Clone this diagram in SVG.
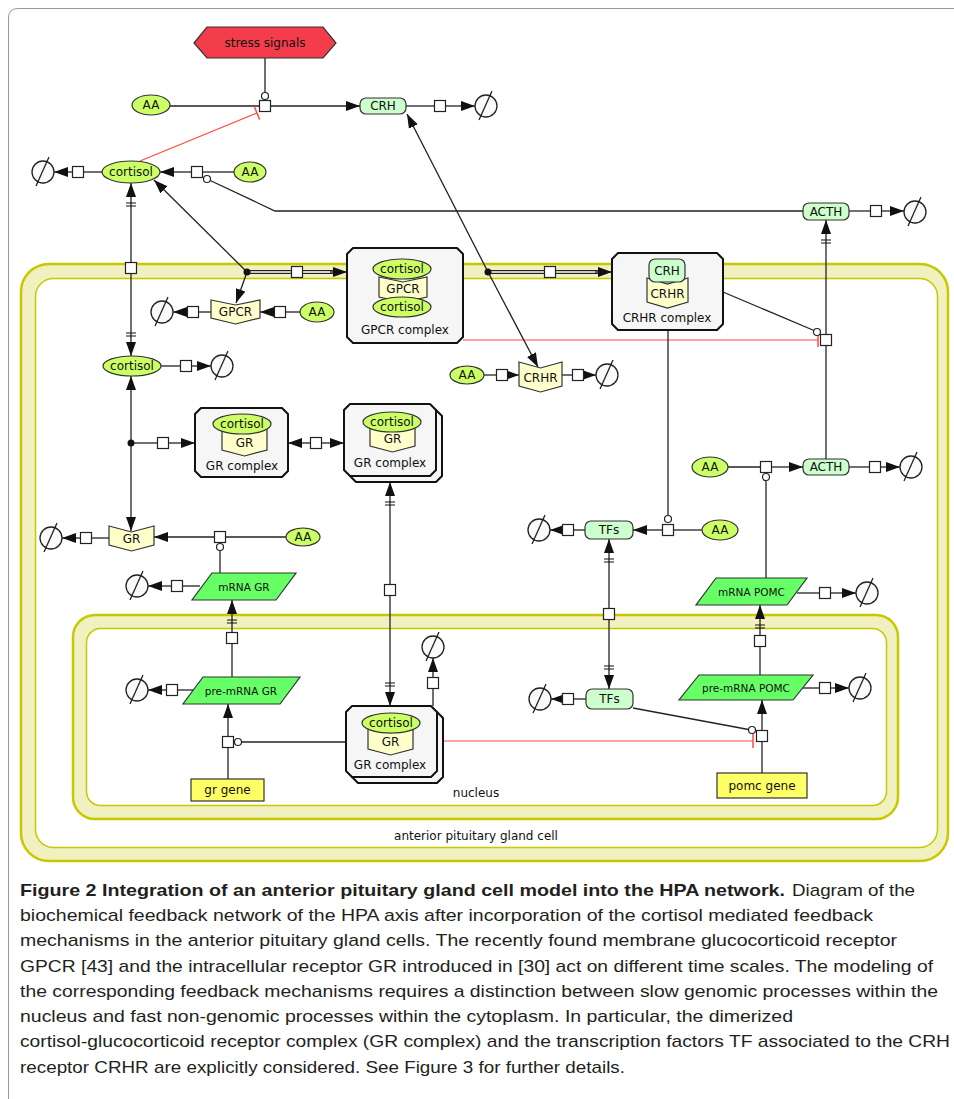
<svg xmlns="http://www.w3.org/2000/svg" width="954" height="1099" viewBox="0 0 954 1099">
<defs>
<style>
.ln{stroke:#222;stroke-width:1.3;fill:none}
.red{stroke:#ff4a3d;stroke-width:1.2;fill:none}
.dk{stroke:#222;stroke-width:4;fill:none}
.wh{stroke:#fff;stroke-width:1.6;fill:none}
.sq{fill:#fff;stroke:#222;stroke-width:1.2}
.mod{fill:#fff;stroke:#222;stroke-width:1.2}
.dot{fill:#111}
.dg circle{fill:#fafafa;stroke:#222;stroke-width:1.3}
.dg line{stroke:#222;stroke-width:1.3}
.sm{fill:#ccff66;stroke:#333;stroke-width:1.2}
.pr{fill:#ccffcc;stroke:#333;stroke-width:1.2}
.rc{fill:#ffffcc;stroke:#333;stroke-width:1.2}
.cx{fill:#f6f6f6;stroke:#111;stroke-width:2;stroke-linejoin:round}
.rna{fill:#66ff66;stroke:#333;stroke-width:1.2}
.gene{fill:#ffff66;stroke:#333;stroke-width:1.2}
.cmp{fill:#f0f0c0;stroke:#c8c800;stroke-width:2.5}
.cmpi{fill:#fff;stroke:#c8c800;stroke-width:1.5}
.t{font-family:"DejaVu Sans",sans-serif;font-size:12px;fill:#111;text-anchor:middle;dominant-baseline:central}
.ts{font-family:"DejaVu Sans",sans-serif;font-size:10.5px;fill:#111;text-anchor:middle;dominant-baseline:central}
.cap{font-family:"Liberation Sans",Arial,sans-serif;font-size:17px;fill:#231f20}
</style>
<marker id="ar" markerUnits="userSpaceOnUse" markerWidth="15" markerHeight="11" refX="14" refY="5.5" orient="auto-start-reverse"><path d="M0,0.5 L14,5.5 L0,10.5 Z" fill="#111"/></marker>
<marker id="arb" markerUnits="userSpaceOnUse" markerWidth="38" markerHeight="14" refX="37" refY="7" orient="auto"><path d="M23,2 L37,7 L23,12 Z" fill="#111"/><path d="M14,2 V12 M17,2 V12" stroke="#111" stroke-width="1.2"/></marker>
<marker id="tb" markerUnits="userSpaceOnUse" markerWidth="4" markerHeight="14" refX="2" refY="7" orient="auto"><path d="M2,0 V14" stroke="#ff4a3d" stroke-width="1.5"/></marker>
</defs>
<rect width="954" height="1099" fill="#fff"/>
<path d="M8.5,1099 V18 Q8.5,8.5 18,8.5 H954" fill="none" stroke="#999" stroke-width="1"/>

<g id="compartment-cell">
<rect class="cmp" x="21" y="264" width="927" height="597" rx="28"/>
<rect class="cmpi" x="35.5" y="278.5" width="902" height="569" rx="18"/>
<text class="t" x="476" y="836">anterior pituitary gland cell</text>
</g>
<g id="compartment-nucleus">
<rect class="cmp" x="73" y="615" width="825" height="204" rx="22"/>
<rect class="cmpi" x="86.5" y="628.5" width="800" height="177" rx="14"/>
<text class="t" x="476" y="793">nucleus</text>
</g>

<g id="connectors">
<!-- CRH synthesis -->
<path class="ln" d="M265,58 V92.5"/>
<path class="ln" d="M170,106 H259.5"/>
<path class="ln" d="M270.5,106 H360" marker-end="url(#ar)"/>
<path class="red" d="M140,161 L257,113" marker-end="url(#tb)"/>
<path class="ln" d="M406,106 H434.5"/>
<path class="ln" d="M445.5,106 H475" marker-end="url(#ar)"/>
<!-- top cortisol -->
<path class="ln" d="M102,172 H83.5"/>
<path class="ln" d="M72.5,172 H54" marker-end="url(#ar)"/>
<path class="ln" d="M234,172 H202.5"/>
<path class="ln" d="M191.5,172 H160" marker-end="url(#ar)"/>
<path class="ln" d="M210.2,180.5 L275,211 H803"/>
<!-- ACTH top -->
<path class="ln" d="M849,211 H870.5"/>
<path class="ln" d="M881.5,211 H904" marker-end="url(#ar)"/>
<path class="ln" d="M826,334.5 V220" marker-end="url(#arb)"/>
<path class="ln" d="M826,459 V345.5"/>
<path class="ln" d="M723,292 L814,330.5"/>
<path class="red" d="M463,340 H818" marker-end="url(#tb)"/>
<!-- GPCR junction -->
<path class="ln" d="M247,272 L154,180" marker-end="url(#ar)"/>
<path class="ln" d="M247,272 L236,303" marker-end="url(#ar)"/>
<path class="dk" d="M247,272 H291.5"/>
<path class="wh" d="M250,272 H291.5"/>
<path class="dk" d="M302.5,272 H334"/>
<path class="wh" d="M302.5,272 H334"/>
<path class="ln" d="M330,272 H347" marker-end="url(#ar)"/>
<!-- GPCR free -->
<path class="ln" d="M211,312 H198.5"/>
<path class="ln" d="M187.5,312 H173" marker-end="url(#ar)"/>
<path class="ln" d="M300,312 H285.5"/>
<path class="ln" d="M274.5,312 H260" marker-end="url(#ar)"/>
<!-- CRH junction -->
<path class="ln" d="M488,272 L407,114" marker-end="url(#ar)"/>
<path class="ln" d="M488,272 L538,367" marker-end="url(#ar)"/>
<path class="dk" d="M488,272 H544.5"/>
<path class="wh" d="M491,272 H544.5"/>
<path class="dk" d="M555.5,272 H599"/>
<path class="wh" d="M555.5,272 H599"/>
<path class="ln" d="M595,272 H612" marker-end="url(#ar)"/>
<!-- CRHR free -->
<path class="ln" d="M484,375 H496.5"/>
<path class="ln" d="M507.5,375 H519" marker-end="url(#ar)"/>
<path class="ln" d="M562,375 H572.5"/>
<path class="ln" d="M583.5,375 H596" marker-end="url(#ar)"/>
<!-- TFs -->
<path class="ln" d="M668,330 V515.5"/>
<path class="ln" d="M702,530 H673.5"/>
<path class="ln" d="M662.5,530 H633" marker-end="url(#ar)"/>
<path class="ln" d="M585,530 H573.5"/>
<path class="ln" d="M562.5,530 H550" marker-end="url(#ar)"/>
<path class="ln" d="M609,608.5 V539" marker-end="url(#arb)"/>
<path class="ln" d="M609,619.5 V689" marker-end="url(#arb)"/>
<path class="ln" d="M586,699 H573.5"/>
<path class="ln" d="M562.5,699 H551" marker-end="url(#ar)"/>
<path class="ln" d="M633,708 L748.5,729.5"/>
<!-- pomc -->
<path class="ln" d="M762,773 V741.5"/>
<path class="ln" d="M762,730.5 V700" marker-end="url(#ar)"/>
<path class="red" d="M437,741 H753" marker-end="url(#tb)"/>
<path class="ln" d="M803,688 H819.5"/>
<path class="ln" d="M830.5,688 H849" marker-end="url(#ar)"/>
<path class="ln" d="M760,675 V646.5"/>
<path class="ln" d="M760,635.5 V605" marker-end="url(#arb)"/>
<path class="ln" d="M797,593 H819.5"/>
<path class="ln" d="M830.5,593 H856" marker-end="url(#ar)"/>
<path class="ln" d="M766,578 V480.5"/>
<path class="ln" d="M728,467 H760.5"/>
<path class="ln" d="M771.5,467 H803" marker-end="url(#ar)"/>
<path class="ln" d="M849,467 H869.5"/>
<path class="ln" d="M880.5,467 H900" marker-end="url(#ar)"/>
<!-- left cortisol axis -->
<path class="ln" d="M131,262.5 V183" marker-end="url(#arb)"/>
<path class="ln" d="M131,273.5 V356" marker-end="url(#arb)"/>
<path class="ln" d="M161,366 H180.5"/>
<path class="ln" d="M191.5,366 H211" marker-end="url(#ar)"/>
<path class="ln" d="M131,443 V376" marker-end="url(#ar)"/>
<path class="ln" d="M131,443 V531" marker-end="url(#ar)"/>
<path class="ln" d="M131,443 H157.5"/>
<path class="ln" d="M168.5,443 H195" marker-end="url(#ar)"/>
<path class="ln" d="M310.5,443 H288" marker-end="url(#ar)"/>
<path class="ln" d="M321.5,443 H344" marker-end="url(#ar)"/>
<path class="ln" d="M390,584.5 V482" marker-end="url(#arb)"/>
<path class="ln" d="M390,595.5 V706" marker-end="url(#arb)"/>
<!-- nucleus GR -->
<path class="ln" d="M433,706 V688.5"/>
<path class="ln" d="M433,677.5 V658" marker-end="url(#ar)"/>
<path class="ln" d="M346,742 H241.5"/>
<path class="ln" d="M228,779 V747.5"/>
<path class="ln" d="M228,736.5 V704" marker-end="url(#ar)"/>
<path class="ln" d="M193,690 H177.5"/>
<path class="ln" d="M166.5,690 H148" marker-end="url(#ar)"/>
<path class="ln" d="M232,677 V643.5"/>
<path class="ln" d="M232,632.5 V600" marker-end="url(#arb)"/>
<path class="ln" d="M200,586 H182.5"/>
<path class="ln" d="M171.5,586 H148" marker-end="url(#ar)"/>
<path class="ln" d="M220,573 V550.5"/>
<path class="ln" d="M286,537 H225.5"/>
<path class="ln" d="M214.5,537 H154" marker-end="url(#ar)"/>
<path class="ln" d="M109,538 H91.5"/>
<path class="ln" d="M80.5,538 H62" marker-end="url(#ar)"/>
<!-- process squares -->
<rect class="sq" x="259.5" y="100.5" width="11" height="11"/>
<rect class="sq" x="434.5" y="100.5" width="11" height="11"/>
<rect class="sq" x="72.5" y="166.5" width="11" height="11"/>
<rect class="sq" x="191.5" y="166.5" width="11" height="11"/>
<rect class="sq" x="870.5" y="205.5" width="11" height="11"/>
<rect class="sq" x="820.5" y="334.5" width="11" height="11"/>
<rect class="sq" x="291.5" y="266.5" width="11" height="11"/>
<rect class="sq" x="187.5" y="306.5" width="11" height="11"/>
<rect class="sq" x="274.5" y="306.5" width="11" height="11"/>
<rect class="sq" x="544.5" y="266.5" width="11" height="11"/>
<rect class="sq" x="496.5" y="369.5" width="11" height="11"/>
<rect class="sq" x="572.5" y="369.5" width="11" height="11"/>
<rect class="sq" x="662.5" y="524.5" width="11" height="11"/>
<rect class="sq" x="562.5" y="524.5" width="11" height="11"/>
<rect class="sq" x="603.5" y="608.5" width="11" height="11"/>
<rect class="sq" x="562.5" y="693.5" width="11" height="11"/>
<rect class="sq" x="756.5" y="730.5" width="11" height="11"/>
<rect class="sq" x="819.5" y="682.5" width="11" height="11"/>
<rect class="sq" x="754.5" y="635.5" width="11" height="11"/>
<rect class="sq" x="819.5" y="587.5" width="11" height="11"/>
<rect class="sq" x="760.5" y="461.5" width="11" height="11"/>
<rect class="sq" x="869.5" y="461.5" width="11" height="11"/>
<rect class="sq" x="125.5" y="262.5" width="11" height="11"/>
<rect class="sq" x="180.5" y="360.5" width="11" height="11"/>
<rect class="sq" x="157.5" y="437.5" width="11" height="11"/>
<rect class="sq" x="310.5" y="437.5" width="11" height="11"/>
<rect class="sq" x="384.5" y="584.5" width="11" height="11"/>
<rect class="sq" x="427.5" y="677.5" width="11" height="11"/>
<rect class="sq" x="222.5" y="736.5" width="11" height="11"/>
<rect class="sq" x="166.5" y="684.5" width="11" height="11"/>
<rect class="sq" x="226.5" y="632.5" width="11" height="11"/>
<rect class="sq" x="171.5" y="580.5" width="11" height="11"/>
<rect class="sq" x="214.5" y="531.5" width="11" height="11"/>
<rect class="sq" x="80.5" y="532.5" width="11" height="11"/>
<!-- modulation circles -->
<circle class="mod" cx="265" cy="96" r="3.5"/>
<circle class="mod" cx="207" cy="179" r="3.5"/>
<circle class="mod" cx="817" cy="332" r="3.5"/>
<circle class="mod" cx="668" cy="519" r="3.5"/>
<circle class="mod" cx="752" cy="730" r="3.5"/>
<circle class="mod" cx="766" cy="477" r="3.5"/>
<circle class="mod" cx="238" cy="742" r="3.5"/>
<circle class="mod" cx="220" cy="547" r="3.5"/>
<!-- junction dots -->
<circle class="dot" cx="247" cy="272" r="3.5"/>
<circle class="dot" cx="488" cy="272" r="3.5"/>
<circle class="dot" cx="131" cy="443" r="3.5"/>
</g>

<g id="degradations" class="dg">
<g id="deg-crh"><circle cx="486" cy="106" r="11"/><line x1="479" y1="120" x2="492" y2="91"/></g>
<g id="deg-cortisol-top"><circle cx="43" cy="172" r="11"/><line x1="36" y1="186" x2="49" y2="157"/></g>
<g id="deg-acth-top"><circle cx="915" cy="212" r="11"/><line x1="908" y1="226" x2="921" y2="197"/></g>
<g id="deg-gpcr"><circle cx="162" cy="312" r="11"/><line x1="155" y1="326" x2="168" y2="297"/></g>
<g id="deg-crhr"><circle cx="607" cy="375" r="11"/><line x1="600" y1="389" x2="613" y2="360"/></g>
<g id="deg-cortisol-mid"><circle cx="222" cy="366" r="11"/><line x1="215" y1="380" x2="228" y2="351"/></g>
<g id="deg-tfs-up"><circle cx="539" cy="530" r="11"/><line x1="532" y1="544" x2="545" y2="515"/></g>
<g id="deg-tfs-low"><circle cx="540" cy="699" r="11"/><line x1="533" y1="713" x2="546" y2="684"/></g>
<g id="deg-premrna-pomc"><circle cx="860" cy="688" r="11"/><line x1="853" y1="702" x2="866" y2="673"/></g>
<g id="deg-mrna-pomc"><circle cx="867" cy="593" r="11"/><line x1="860" y1="607" x2="873" y2="578"/></g>
<g id="deg-acth-low"><circle cx="911" cy="467" r="11"/><line x1="904" y1="481" x2="917" y2="452"/></g>
<g id="deg-grcomplex-nuc"><circle cx="433" cy="647" r="11"/><line x1="426" y1="661" x2="439" y2="632"/></g>
<g id="deg-premrna-gr"><circle cx="137" cy="690" r="11"/><line x1="130" y1="704" x2="143" y2="675"/></g>
<g id="deg-mrna-gr"><circle cx="137" cy="586" r="11"/><line x1="130" y1="600" x2="143" y2="571"/></g>
<g id="deg-gr"><circle cx="51" cy="538" r="11"/><line x1="44" y1="552" x2="57" y2="523"/></g>
</g>

<g id="stress-signals"><polygon points="194,43 207,27 323,27 336,43 323,58 207,58" fill="#f33d4a" stroke="#333" stroke-width="1.2"/><text class="t" x="265" y="43">stress signals</text></g>
<g id="aa1"><ellipse class="sm" cx="151" cy="105" rx="19" ry="10"/><text class="t" x="151" y="105">AA</text></g>
<g id="aa2"><ellipse class="sm" cx="250" cy="172" rx="16" ry="10"/><text class="t" x="250" y="172">AA</text></g>
<g id="aa3"><ellipse class="sm" cx="317" cy="312" rx="17" ry="10"/><text class="t" x="317" y="312">AA</text></g>
<g id="aa4"><ellipse class="sm" cx="467" cy="375" rx="17" ry="9"/><text class="t" x="467" y="375">AA</text></g>
<g id="aa5"><ellipse class="sm" cx="720" cy="530" rx="18" ry="10"/><text class="t" x="720" y="530">AA</text></g>
<g id="aa6"><ellipse class="sm" cx="710" cy="467" rx="18" ry="10"/><text class="t" x="710" y="467">AA</text></g>
<g id="aa7"><ellipse class="sm" cx="303" cy="537" rx="17" ry="9"/><text class="t" x="303" y="537">AA</text></g>
<g id="cortisol-top"><ellipse class="sm" cx="131" cy="172" rx="29" ry="11"/><text class="t" x="131" y="172">cortisol</text></g>
<g id="cortisol-mid"><ellipse class="sm" cx="132" cy="366" rx="29" ry="10"/><text class="t" x="132" y="366">cortisol</text></g>
<g id="crh"><rect class="pr" x="360" y="98" width="46" height="16" rx="6"/><text class="t" x="383" y="106">CRH</text></g>
<g id="acth-top"><rect class="pr" x="803" y="203" width="46" height="17" rx="6"/><text class="t" x="826" y="211.5">ACTH</text></g>
<g id="acth-low"><rect class="pr" x="803" y="459" width="46" height="16" rx="6"/><text class="t" x="826" y="467">ACTH</text></g>
<g id="tfs-up"><rect class="pr" x="585" y="521" width="48" height="18" rx="6"/><text class="t" x="609" y="530">TFs</text></g>
<g id="tfs-low"><rect class="pr" x="586" y="689" width="47" height="20" rx="6"/><text class="t" x="609.5" y="699">TFs</text></g>
<g id="gpcr"><path class="rc" d="M211,300 L235.5,305 L260,300 L260,318 L235.5,324 L211,318 Z"/><text class="t" x="235.5" y="312">GPCR</text></g>
<g id="crhr"><path class="rc" d="M519,362 L540.5,368 L562,362 L562,386 L540.5,392 L519,386 Z"/><text class="t" x="540.5" y="378">CRHR</text></g>
<g id="gr"><path class="rc" d="M109,526 L131.5,532 L154,526 L154,545 L131.5,551 L109,545 Z"/><text class="t" x="131.5" y="539">GR</text></g>

<g id="gpcr-complex">
<path class="cx" d="M353,248 H457 L463,254 V337 L457,343 H353 L347,337 V254 Z"/>
<path class="rc" d="M379,277 L403,282 L427,277 L427,297 L403,302 L379,297 Z"/>
<text class="t" x="403" y="289">GPCR</text>
<ellipse class="sm" cx="402" cy="269" rx="29" ry="10"/><text class="t" x="402" y="269">cortisol</text>
<ellipse class="sm" cx="402" cy="307" rx="29" ry="10"/><text class="t" x="402" y="307">cortisol</text>
<text class="t" x="405" y="330">GPCR complex</text>
</g>
<g id="crhr-complex">
<path class="cx" d="M618,253 H717 L723,259 V324 L717,330 H618 L612,324 V259 Z"/>
<path class="rc" d="M647,278 L667.5,284 L688,278 L688,302 L667.5,308 L647,302 Z"/>
<text class="t" x="667.5" y="294">CRHR</text>
<rect class="pr" x="649" y="259" width="36" height="23" rx="6"/><text class="t" x="667" y="270.5">CRH</text>
<text class="t" x="667" y="318">CRHR complex</text>
</g>
<g id="gr-complex-1">
<path class="cx" d="M201,408 H282 L288,414 V471 L282,477 H201 L195,471 V414 Z"/>
<path class="rc" d="M222,428 L244.5,432 L267,428 L267,450 L244.5,456 L222,450 Z"/>
<text class="t" x="244.5" y="443">GR</text>
<ellipse class="sm" cx="242" cy="424" rx="29" ry="10"/><text class="t" x="242" y="424">cortisol</text>
<text class="t" x="242" y="466">GR complex</text>
</g>
<g id="gr-complex-2">
<path class="cx" d="M356,410 H436 L442,416 V476 L436,482 H356 L350,476 V416 Z"/>
<path class="cx" d="M350,404 H430 L436,410 V470 L430,476 H350 L344,470 V410 Z"/>
<path class="rc" d="M370,426 L392.5,430 L415,426 L415,446 L392.5,452 L370,446 Z"/>
<text class="t" x="392.5" y="439">GR</text>
<ellipse class="sm" cx="392" cy="422" rx="29" ry="10"/><text class="t" x="392" y="422">cortisol</text>
<text class="t" x="390" y="463">GR complex</text>
</g>
<g id="gr-complex-nucleus">
<path class="cx" d="M358,712 H437 L443,718 V777 L437,783 H358 L352,777 V718 Z"/>
<path class="cx" d="M352,706 H431 L437,712 V771 L431,777 H352 L346,771 V712 Z"/>
<path class="rc" d="M368,729 L390.5,733 L413,729 L413,749 L390.5,755 L368,749 Z"/>
<text class="t" x="390.5" y="742">GR</text>
<ellipse class="sm" cx="391" cy="723" rx="29" ry="10"/><text class="t" x="391" y="723">cortisol</text>
<text class="t" x="390" y="765">GR complex</text>
</g>
<g id="mrna-gr"><polygon class="rna" points="192,600 276,600 296,573 212,573"/><text class="ts" x="244" y="587">mRNA GR</text></g>
<g id="premrna-gr"><polygon class="rna" points="183,704 280,704 300,677 203,677"/><text class="ts" x="241" y="691">pre-mRNA GR</text></g>
<g id="gr-gene"><rect class="gene" x="191" y="779" width="73" height="22"/><text class="t" x="227.5" y="790">gr gene</text></g>
<g id="mrna-pomc"><polygon class="rna" points="696,605 787,605 807,578 716,578"/><text class="ts" x="751.5" y="592">mRNA POMC</text></g>
<g id="premrna-pomc"><polygon class="rna" points="679,700 793,700 813,675 699,675"/><text class="ts" x="746" y="688">pre-mRNA POMC</text></g>
<g id="pomc-gene"><rect class="gene" x="717" y="773" width="90" height="25"/><text class="t" x="762" y="786">pomc gene</text></g>

<g id="caption" class="cap">
<text x="20" y="896" font-weight="bold" textLength="765" lengthAdjust="spacingAndGlyphs">Figure 2 Integration of an anterior pituitary gland cell model into the HPA network.</text>
<text x="792" y="896" textLength="123" lengthAdjust="spacingAndGlyphs">Diagram of the</text>
<text x="20" y="921" textLength="853" lengthAdjust="spacingAndGlyphs">biochemical feedback network of the HPA axis after incorporation of the cortisol mediated feedback</text>
<text x="20" y="946" textLength="877" lengthAdjust="spacingAndGlyphs">mechanisms in the anterior pituitary gland cells. The recently found membrane glucocorticoid receptor</text>
<text x="20" y="972" textLength="913" lengthAdjust="spacingAndGlyphs">GPCR [43] and the intracellular receptor GR introduced in [30] act on different time scales. The modeling of</text>
<text x="20" y="997" textLength="918" lengthAdjust="spacingAndGlyphs">the corresponding feedback mechanisms requires a distinction between slow genomic processes within the</text>
<text x="20" y="1022" textLength="773" lengthAdjust="spacingAndGlyphs">nucleus and fast non-genomic processes within the cytoplasm. In particular, the dimerized</text>
<text x="20" y="1047" textLength="930" lengthAdjust="spacingAndGlyphs">cortisol-glucocorticoid receptor complex (GR complex) and the transcription factors TF associated to the CRH</text>
<text x="20" y="1073" textLength="605" lengthAdjust="spacingAndGlyphs">receptor CRHR are explicitly considered. See Figure 3 for further details.</text>
</g>
</svg>
